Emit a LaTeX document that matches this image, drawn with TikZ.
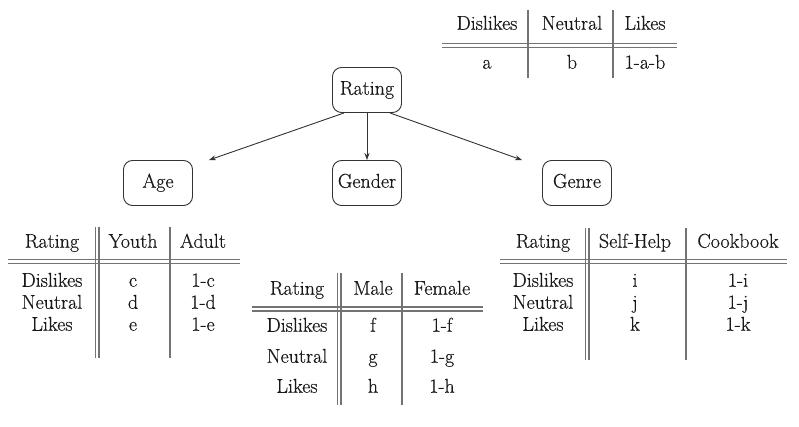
\documentclass[tikz,border=0pt]{standalone}
\usepackage{fontspec}
\setmainfont{Latin Modern Roman}[FakeBold=0.4]
\usetikzlibrary{arrows.meta}
\begin{document}
\begin{tikzpicture}[x=1pt,y=-1pt,
  every node/.style={font=\fontsize{20}{23}\selectfont, text=black!90, inner sep=0pt},
  cell/.style={text height=13.5pt, text depth=4pt},
  rule/.style={draw=black!55, line width=1.1pt},
  var/.style={draw=black!80, rounded corners=9pt, minimum width=69pt, minimum height=45pt, line width=0.9pt, text height=13.5pt, text depth=4pt},
  link/.style={-{Stealth[length=7pt,width=5pt]}, draw=black!80, line width=0.9pt}]
\useasboundingbox[fill=white] (0,0) rectangle (799,427);

% ---- top table (Rating prior)
\node[cell] (p1) at (487,25) {Dislikes};
\node[cell] (p2) at (572,25) {Neutral};
\node[cell] (p3) at (645,25) {Likes};
\node[cell] (pa) at (487,64) {a};
\node[cell] (pb) at (572,64) {b};
\node[cell] (pc) at (645,64) {1-a-b};
\draw[rule] (442,43.5) -- (677,43.5) (442,47.5) -- (677,47.5);
\draw[rule] (528,10) -- (528,78) (613,10) -- (613,78);

% ---- variable nodes
\node[var] (rating) at (367,90) {Rating};
\node[var] (age) at (158,183) {Age};
\node[var] (gender) at (367,183) {Gender};
\node[var] (genre) at (577,183) {Genre};
\draw[link] ([xshift=12pt]rating.south west) -- ([xshift=16pt]age.north east);
\draw[link] (rating.south) -- (gender.north);
\draw[link] ([xshift=-12pt]rating.south east) -- ([xshift=-20pt]genre.north west);

% ---- Age table
\node[cell] (ah) at (52,243) {Rating};
\node[cell] (ay) at (133,243) {Youth};
\node[cell] (aa) at (203,243) {Adult};
\node[cell] (a1) at (52,282) {Dislikes};
\node[cell] (a2) at (52,304) {Neutral};
\node[cell] (a3) at (52,326) {Likes};
\node[cell] (a1y) at (133,282) {c};
\node[cell] (a2y) at (133,304) {d};
\node[cell] (a3y) at (133,326) {e};
\node[cell] (a1a) at (203,282) {1-c};
\node[cell] (a2a) at (203,304) {1-d};
\node[cell] (a3a) at (203,326) {1-e};
\draw[rule] (8,259.5) -- (240,259.5) (8,263.5) -- (240,263.5);
\draw[rule] (95.5,227) -- (95.5,358) (99,227) -- (99,358) (170,227) -- (170,358);

% ---- Gender table
\node[cell] (gh) at (297,290) {Rating};
\node[cell] (gm) at (373,290) {Male};
\node[cell] (gf) at (442,290) {Female};
\node[cell] (g1) at (297,327) {Dislikes};
\node[cell] (g2) at (297,358) {Neutral};
\node[cell] (g3) at (297,388) {Likes};
\node[cell] (g1m) at (373,327) {f};
\node[cell] (g2m) at (373,358) {g};
\node[cell] (g3m) at (373,388) {h};
\node[cell] (g1f) at (442,327) {1-f};
\node[cell] (g2f) at (442,358) {1-g};
\node[cell] (g3f) at (442,388) {1-h};
\draw[rule] (252,307) -- (483,307) (252,311) -- (483,311);
\draw[rule] (337.5,273) -- (337.5,405) (341,273) -- (341,405) (402,273) -- (402,405);

% ---- Genre table
\node[cell] (nh) at (543,243) {Rating};
\node[cell] (ns) at (635,243) {Self-Help};
\node[cell] (nc) at (738,243) {Cookbook};
\node[cell] (n1) at (543,282) {Dislikes};
\node[cell] (n2) at (543,304) {Neutral};
\node[cell] (n3) at (543,326) {Likes};
\node[cell] (n1s) at (635,282) {i};
\node[cell] (n2s) at (635,304) {j};
\node[cell] (n3s) at (635,326) {k};
\node[cell] (n1c) at (738,282) {1-i};
\node[cell] (n2c) at (738,304) {1-j};
\node[cell] (n3c) at (738,326) {1-k};
\draw[rule] (500,259.5) -- (787,259.5) (500,263.5) -- (787,263.5);
\draw[rule] (585.5,228) -- (585.5,360) (589,228) -- (589,360) (686,228) -- (686,360);
\end{tikzpicture}
\end{document}
